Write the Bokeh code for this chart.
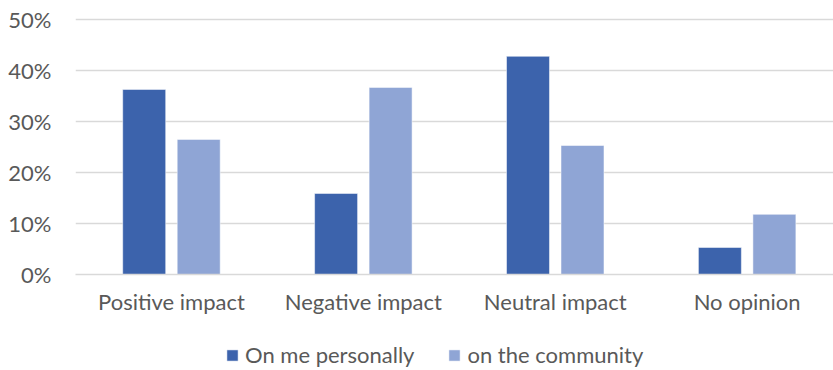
from bokeh.plotting import figure
from bokeh.layouts import column
from bokeh.models import (Range1d, FixedTicker, PrintfTickFormatter, Legend,
                          LegendItem, ColumnDataSource)
from bokeh.transform import dodge
from bokeh.embed import file_html
from bokeh.resources import INLINE

# Survey answers (percent of respondents)
categories = ["Positive impact", "Negative impact", "Neutral impact", "No opinion"]
on_me_personally = [36.3, 15.9, 42.8, 5.3]
on_the_community = [26.5, 36.7, 25.3, 11.8]
series_names = ["On me personally", "on the community"]
y_ticks = [0, 10, 20, 30, 40, 50]

FONT = "Lato"
FONT_SIZE = "22px"
TEXT = "#595959"
GRID = "#d9d9d9"
DARK = "#3c63ac"
LIGHT = "#8fa5d5"
series_colors = [DARK, LIGHT]

src = ColumnDataSource(dict(
    pos=list(range(len(categories))),
    me=on_me_personally,
    community=on_the_community,
))

p = figure(width=833, height=330, output_backend="svg", toolbar_location=None,
           x_range=Range1d(-0.5, 3.45), y_range=Range1d(0, 51),
           min_border_left=75, min_border_right=0, min_border_top=14,
           min_border_bottom=56)
p.outline_line_color = None
p.background_fill_color = "white"
p.border_fill_color = "white"

bar_w = 0.224
offset = 0.142
p.vbar(x=dodge("pos", -offset, range=p.x_range), top="me", width=bar_w,
       source=src, fill_color=series_colors[0], line_color="white",
       line_alpha=0.5, line_width=1)
p.vbar(x=dodge("pos", offset, range=p.x_range), top="community",
       width=bar_w, source=src, fill_color=series_colors[1], line_color="white",
       line_alpha=0.5, line_width=1)

# x axis: category names under each pair of bars
p.xaxis.ticker = FixedTicker(ticks=list(range(len(categories))))
p.xaxis.major_label_overrides = {i: c for i, c in enumerate(categories)}
p.xaxis.major_tick_line_color = None
p.xaxis.minor_tick_line_color = None
p.xaxis.axis_line_color = GRID
p.xaxis.axis_line_width = 1.5
p.xaxis.major_label_standoff = 7
p.xaxis.major_label_text_font = FONT
p.xaxis.major_label_text_font_size = FONT_SIZE
p.xaxis.major_label_text_color = TEXT
p.xgrid.visible = False

# y axis: percentages with light horizontal gridlines
p.yaxis.ticker = FixedTicker(ticks=y_ticks)
p.yaxis.formatter = PrintfTickFormatter(format="%d%%")
p.yaxis.axis_line_color = None
p.yaxis.major_tick_line_color = None
p.yaxis.minor_tick_line_color = None
p.yaxis.major_label_standoff = 18
p.yaxis.major_label_text_font = FONT
p.yaxis.major_label_text_font_size = FONT_SIZE
p.yaxis.major_label_text_color = TEXT
p.ygrid.ticker = FixedTicker(ticks=y_ticks)
p.ygrid.grid_line_color = GRID
p.ygrid.grid_line_width = 1.5

# legend strip underneath the chart; zero-size proxy glyphs carry the swatch styles
lg = figure(width=833, height=40, output_backend="svg", toolbar_location=None,
            x_range=Range1d(0, 1), y_range=Range1d(0, 1),
            x_axis_location=None, y_axis_location=None,
            min_border=0, outline_line_color=None)
lg.grid.visible = False
swatches = [lg.vbar(x=[0], top=[0], width=0, fill_color=c, line_color="white",
                    line_alpha=0.5) for c in series_colors]
legend = Legend(
    items=[LegendItem(label=name, renderers=[r])
           for name, r in zip(series_names, swatches)],
    location=(150, 2), orientation="horizontal",
    border_line_color=None, background_fill_alpha=0,
    padding=0, margin=0, spacing=33, label_standoff=6,
    glyph_width=14, glyph_height=14,
    label_text_font=FONT, label_text_font_size=FONT_SIZE,
    label_text_color=TEXT,
)
lg.add_layout(legend, "center")

open("out.html", "w").write(file_html(column(p, lg, spacing=0), INLINE))
